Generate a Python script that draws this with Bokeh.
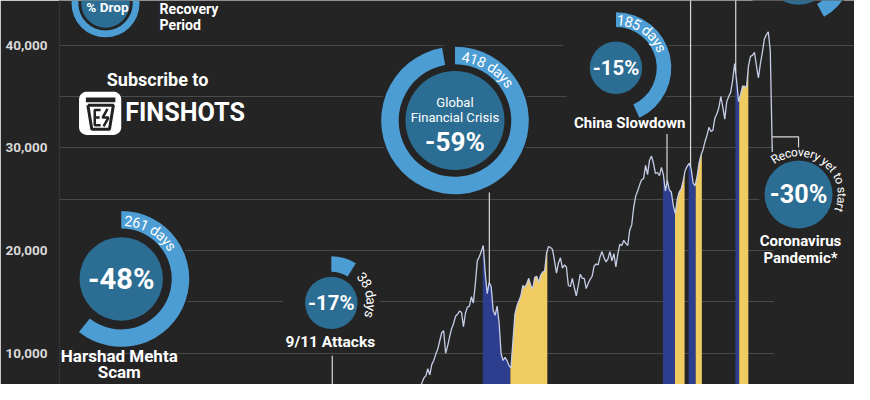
import math
from datetime import date
import numpy as np
from bokeh.plotting import figure
from bokeh.models import Range1d, FixedTicker, ColumnDataSource
from bokeh.core.properties import value
from bokeh.embed import file_html
from bokeh.resources import INLINE

# ---------------- data ----------------
FIRST_YEAR = 1990
# approximate monthly Sensex levels, one row per year (1990 ... 2020)
sensex_by_year = [
    [700, 800, 780, 800, 810, 900, 1050, 1200, 1300, 1400, 1200, 1050],
    [1000, 1150, 1170, 1280, 1300, 1340, 1400, 1600, 1850, 1900, 1900, 1900],
    [2200, 3500, 4300, 3900, 3300, 3100, 3200, 2900, 3300, 3000, 2800, 2600],
    [2500, 2400, 2300, 2100, 2200, 2400, 2600, 2800, 2600, 2900, 3200, 3300],
    [3800, 3800, 3800, 3900, 3900, 4300, 4100, 4300, 4500, 4300, 4000, 4000],
    [3500, 3300, 3300, 3400, 3300, 3200, 3300, 3200, 3400, 3400, 3000, 3100],
    [3200, 3400, 3400, 3600, 3700, 3800, 3600, 3500, 3400, 3300, 3000, 3100],
    [3400, 3400, 3600, 3700, 3900, 4200, 4300, 4100, 3900, 3800, 3600, 3700],
    [3400, 3500, 3900, 4100, 3900, 3300, 3400, 3000, 3100, 2900, 2900, 3000],
    [3200, 3200, 3700, 3300, 3900, 4100, 4400, 4800, 4800, 4600, 4700, 5000],
    [5200, 5400, 5000, 4600, 4400, 4700, 4300, 4600, 4100, 3800, 3900, 4000],
    [4300, 4200, 3600, 3500, 3600, 3400, 3300, 3300, 2800, 3000, 3300, 3300],
    [3300, 3500, 3500, 3300, 3100, 3200, 3000, 3100, 3000, 2950, 3200, 3400],
    [3200, 3300, 3050, 2950, 3200, 3600, 3800, 4200, 4450, 4900, 5000, 5800],
    [5700, 5700, 5600, 5650, 4750, 4800, 5150, 5200, 5600, 5650, 6250, 6600],
    [6550, 6700, 6500, 6150, 6700, 7100, 7600, 7800, 8500, 7900, 8900, 9300],
    [9900, 10400, 11200, 12000, 12200, 10000, 10700, 11600, 12400, 12900, 13600, 13800],
    [14100, 14000, 12600, 13900, 14500, 14600, 15500, 14900, 16800, 19000, 19400, 19900],
    [20500, 17800, 15800, 16900, 16500, 14200, 13700, 14600, 13000, 10000, 9300, 9600],
    [9300, 8800, 8600, 11200, 13800, 14600, 15100, 15600, 16600, 16400, 16800, 17300],
    [16600, 16300, 17400, 17500, 16900, 17600, 17900, 18000, 19800, 20400, 20300, 20100],
    [19000, 17800, 18800, 19300, 18300, 18600, 18400, 16600, 16500, 17300, 16400, 15600],
    [16600, 17700, 17300, 17300, 16300, 16800, 17200, 17500, 18500, 18700, 18600, 19400],
    [19900, 19300, 18900, 19200, 19900, 19000, 19700, 18400, 19700, 20600, 20500, 21000],
    [20700, 20500, 22000, 22500, 24200, 25300, 25800, 26400, 26900, 27000, 28300, 27400],
    [28800, 29200, 28500, 27500, 27600, 27300, 28100, 27400, 25800, 26800, 25900, 25700],
    [24400, 23600, 25000, 25700, 26000, 26800, 27800, 28200, 28500, 28000, 26600, 26300],
    [27200, 28500, 29300, 29800, 30600, 31200, 32000, 31600, 31700, 32900, 33300, 33900],
    [35000, 34000, 32800, 34500, 35000, 35400, 36600, 38200, 36500, 34500, 35200, 36000],
    [36000, 35900, 38000, 38900, 39000, 39300, 38000, 36800, 38200, 39300, 40600, 41000],
    [41300, 39400, 29600],
]

event_names = ["Harshad Mehta Scam", "9/11 Attacks", "Global Financial Crisis",
               "China Slowdown", "Demonetisation", "IL&FS Crisis", "Coronavirus Pandemic*"]
drop_pct = ["-48%", "-17%", "-59%", "-15%", None, None, "-30%"]
drop_days = [261, 38, 418, 185, None, 181, None]
drop_start = ["1992-04-22", "2001-09-10", "2008-01-08", "2015-08-10",
              "2016-09-08", "2018-08-29", "2020-01-20"]
drop_end = ["1993-01-08", "2001-09-21", "2009-03-09", "2016-02-11",
            "2016-12-26", "2018-10-26", "2020-03-23"]
recovery_end = ["1994-07-15", "2001-10-18", "2010-09-28", "2016-07-08",
                "2017-03-31", "2019-03-15", None]

ytick_values = [10000, 15000, 20000, 25000, 30000, 35000, 40000]
ytick_labels = ["10,000", "", "20,000", "", "30,000", "", "40,000"]

# ---------------- helpers ----------------
BG = "#242424"
GRID = "#4a4a4a"
LINE = "#c6cde6"
BLUE_BAND = "#2d3e8f"
YELLOW_BAND = "#efcb62"
DONUT_IN = "#2c6d93"
DONUT_ARC = "#4c9dd4"
WHITE = "#ffffff"
FONT = value("Roboto")

W, H = 854, 384
KX, KY = W / 870, H / 400
S = (KX + KY) / 2           # screen scale for radii / font sizes
LEFT = 59                   # canvas px of frame left


def fy(s):
    y, m, d = map(int, s.split("-"))
    return y + (date(y, m, d) - date(y, 1, 1)).days / 365.25


# layout pixel (870x400 design grid) -> data
def px2x(X):
    return 2008.05 + (X - 492) / 24.2


def px2y(Y):
    return (474.5 - Y) * 10000 / 107


def fpx(n):
    return value(f"{n * S:.1f}px")


sx, sy = [], []
for yi, row in enumerate(sensex_by_year):
    for mi, v in enumerate(row):
        sx.append(FIRST_YEAR + yi + (mi + 0.5) / 12)
        sy.append(v)
sx = np.array(sx)
sy = np.array(sy, dtype=float)

p = figure(width=W, height=H,
           x_range=Range1d(px2x(LEFT / KX), px2x(870)),
           y_range=Range1d(px2y(400), px2y(0)),
           x_axis_location=None, y_axis_location="left",
           min_border_left=LEFT, min_border_right=0, min_border_top=0, min_border_bottom=0,
           toolbar_location=None, output_backend="svg",
           background_fill_color=BG, border_fill_color=BG, outline_line_color=None)

p.yaxis.ticker = FixedTicker(ticks=ytick_values)
p.yaxis.major_label_overrides = {v: l for v, l in zip(ytick_values, ytick_labels)}
p.yaxis.major_tick_line_color = None
p.yaxis.minor_tick_line_color = None
p.yaxis.axis_line_color = "#343434"
p.yaxis.major_label_text_color = "#d9d9d9"
p.yaxis.major_label_text_font = "Roboto"
p.yaxis.major_label_text_font_size = "13.5px"
p.yaxis.major_label_text_font_style = "bold"
p.yaxis.major_label_standoff = 6
p.ygrid.grid_line_color = GRID
p.ygrid.grid_line_width = 1
p.xgrid.visible = False

# mask behind the coronavirus label block (gridlines stop there)
p.quad(left=[px2x(788)], right=[px2x(880)], top=[px2y(128)], bottom=[px2y(420)],
       fill_color=BG, line_color=None)

# ---------------- drop / recovery bands ----------------
def band(t0, t1):
    inner = sx[(sx > t0) & (sx < t1)]
    xs = np.concatenate([[t0], inner, [t1]])
    ys = np.interp(xs, sx, sy)
    return xs, ys


for i in range(len(event_names)):
    if recovery_end[i] is None:
        continue
    t0, t1, t2 = fy(drop_start[i]), fy(drop_end[i]), fy(recovery_end[i])
    bx, by = band(t0, t1)
    p.varea(x=bx, y1=0, y2=by, fill_color=BLUE_BAND)
    rx, ry = band(t1, t2)
    p.varea(x=rx, y1=0, y2=ry, fill_color=YELLOW_BAND)

p.line(sx, sy, line_color=LINE, line_width=1.3)

# ---------------- connectors ----------------
conn_layout = [  # event index, x pixel, top pixel
    (1, 338, 370), (2, 498, 200), (3, 679, 139), (4, 703, -10), (5, 749, -10)]
for i, X, Yt in conn_layout:
    xv = px2x(X)
    p.segment(x0=[xv], y0=[px2y(Yt)], x1=[xv], y1=[float(np.interp(xv, sx, sy))],
              line_color="#d8d8d8", line_width=1.2)
# coronavirus bracket
p.line([px2x(786), px2x(813), px2x(813)], [px2y(142), px2y(142), px2y(153)],
       line_color="#d8d8d8", line_width=1.2)

# ---------------- donuts ----------------
def cw(ch):
    table = {' ': 0.26, 'i': 0.25, 'l': 0.25, 'r': 0.36, 't': 0.35, 'y': 0.49,
             'v': 0.49, 'R': 0.64, 'o': 0.57, 'e': 0.54, 'c': 0.52, 'a': 0.54, 's': 0.51}
    return table.get(ch, 0.56)


def arc_chars(s, X, Y, r, start_deg, fs):
    xs, ys, angs, chs = [], [], [], []
    th = math.radians(start_deg)
    for ch in s:
        w = cw(ch) * fs
        c = th - (w / 2) / r
        xs.append(px2x(X + r * math.cos(c)))
        ys.append(px2y(Y - r * math.sin(c)))
        angs.append(c - math.pi / 2)
        chs.append(ch)
        th -= w / r
    return dict(x=xs, y=ys, angle=angs, text=chs)


DEG_PER_DAY = 360 / 430

donut_layout = [
    dict(i=0, X=123, Y=290, r=43, a0=52, a1=70, fs=30, tr=61, tfs=15, ts=87),
    dict(i=1, X=337, Y=315, r=27, a0=32, a1=48, fs=21, tr=41, tfs=14, ts=46),
    dict(i=2, X=463, Y=125, r=51, a0=58, a1=76, fs=27, tr=67, tfs=15, ts=84, py=147),
    dict(i=3, X=627, Y=70, r=27, a0=42, a1=57, fs=21, tr=50, tfs=15, ts=89),
    dict(i=5, X=813, Y=-32, r=36, a0=40, a1=55),
    dict(i=6, X=813, Y=202, r=35, fs=26),
]

for d in donut_layout:
    i = d["i"]
    cx, cy = px2x(d["X"]), px2y(d["Y"])
    outer = d.get("a1", d["r"] + 4)
    p.scatter([cx], [cy], size=(2 * outer + 4) * S, marker="circle", fill_color=BG, line_color=None)
    if d.get("a0") and drop_days[i]:
        sweep = math.radians(drop_days[i] * DEG_PER_DAY)
        p.annular_wedge(x=[cx], y=[cy], inner_radius=d["a0"] * S, outer_radius=d["a1"] * S,
                        inner_radius_units="screen", outer_radius_units="screen",
                        start_angle=math.pi / 2, end_angle=math.pi / 2 - sweep,
                        direction="clock", fill_color=DONUT_ARC, line_color=None)
    p.scatter([cx], [cy], size=2 * d["r"] * S, marker="circle", fill_color=DONUT_IN, line_color=None)
    if drop_pct[i] and d.get("fs"):
        pyy = d.get("py", d["Y"])
        p.text(x=[cx], y=[px2y(pyy)], text=[drop_pct[i]], text_font=FONT,
               text_font_size=fpx(d["fs"]), text_font_style="bold",
               text_color=WHITE, text_align="center", text_baseline="middle")
    if d.get("tr") and drop_days[i]:
        src = ColumnDataSource(arc_chars(f"{drop_days[i]} days", d["X"], d["Y"], d["tr"], d["ts"], d["tfs"]))
        p.text(x="x", y="y", text="text", angle="angle", source=src, text_font=FONT,
               text_font_size=fpx(d["tfs"]), text_color=WHITE,
               text_align="center", text_baseline="middle")

# recovery yet to start
src = ColumnDataSource(arc_chars("Recovery yet to start", 813, 202, 44, 128, 12.5))
p.text(x="x", y="y", text="text", angle="angle", source=src, text_font=FONT,
       text_font_size=fpx(12.5), text_color=WHITE, text_align="center", text_baseline="middle")

# ---------------- labels ----------------
labels = [  # text, X, Y, size, bold, align
    ("Harshad Mehta", 121, 370, 17.5, True, "center"),
    ("Scam", 121, 387, 17.5, True, "center"),
    ("9/11 Attacks", 336, 356, 16, True, "center"),
    ("Global", 463, 106, 13.5, False, "center"),
    ("Financial Crisis", 463, 122, 13.5, False, "center"),
    ("China Slowdown", 641, 128, 15.5, True, "center"),
    ("Coronavirus", 815, 251, 15.5, True, "center"),
    ("Pandemic*", 815, 268, 15.5, True, "center"),
    ("Subscribe to", 160, 82, 18.5, True, "center"),
    ("FINSHOTS", 127, 117, 26, True, "left"),
    ("Recovery", 162, 9, 14.5, True, "left"),
    ("Period", 162, 25, 14.5, True, "left"),
]
for t, X, Y, fs, bold, al in labels:
    p.text(x=[px2x(X)], y=[px2y(Y)], text=[t], text_font=FONT, text_font_size=fpx(fs),
           text_font_style="bold" if bold else "normal", text_color=WHITE,
           text_align=al, text_baseline="middle")

# legend donut (top-left)
lx, ly = px2x(107), px2y(3)
p.annulus(x=[lx], y=[ly], inner_radius=28 * S, outer_radius=35 * S,
          inner_radius_units="screen", outer_radius_units="screen",
          fill_color=DONUT_ARC, line_color=None)
p.scatter([lx], [ly], size=50 * S, marker="circle", fill_color=DONUT_IN, line_color=None)
p.text(x=[px2x(109)], y=[px2y(7)], text=["% Drop"], text_font=FONT, text_font_size=fpx(14),
       text_font_style="bold", text_color=WHITE, text_align="center", text_baseline="middle")

# logo: rounded white square with cup
def rounded_rect(x0, y0, x1, y1, r):
    pts = []
    corners = [(x1 - r, y0 + r, 90, 0), (x1 - r, y1 - r, 0, -90),
               (x0 + r, y1 - r, -90, -180), (x0 + r, y0 + r, 180, 90)]
    for cxp, cyp, a_s, a_e in corners:
        for k in range(9):
            a = math.radians(a_s + (a_e - a_s) * k / 8)
            pts.append((cxp + r * math.cos(a), cyp - r * math.sin(a)))
    return [px2x(a) for a, b in pts], [px2y(b) for a, b in pts]


rx_, ry_ = rounded_rect(80, 95, 123, 140, 8)
p.patch(rx_, ry_, fill_color=WHITE, line_color=None)
p.quad(left=[px2x(87)], right=[px2x(117)], top=[px2y(101)], bottom=[px2y(106)],
       fill_color="#222222", line_color=None)
p.line([px2x(v) for v in (89, 115, 111, 93, 89)], [px2y(v) for v in (109, 109, 134, 134, 109)],
       line_color="#222222", line_width=3)
p.line([px2x(v) for v in (102, 96, 96, 102)], [px2y(v) for v in (114, 114, 130, 130)],
       line_color="#222222", line_width=2.5)
p.line([px2x(v) for v in (96, 101)], [px2y(v) for v in (122, 122)],
       line_color="#222222", line_width=2.5)
p.line([px2x(v) for v in (109, 104, 110, 105)], [px2y(v) for v in (113, 122, 122, 131)],
       line_color="#222222", line_width=2.5)

open("out.html", "w").write(file_html(p, INLINE))
